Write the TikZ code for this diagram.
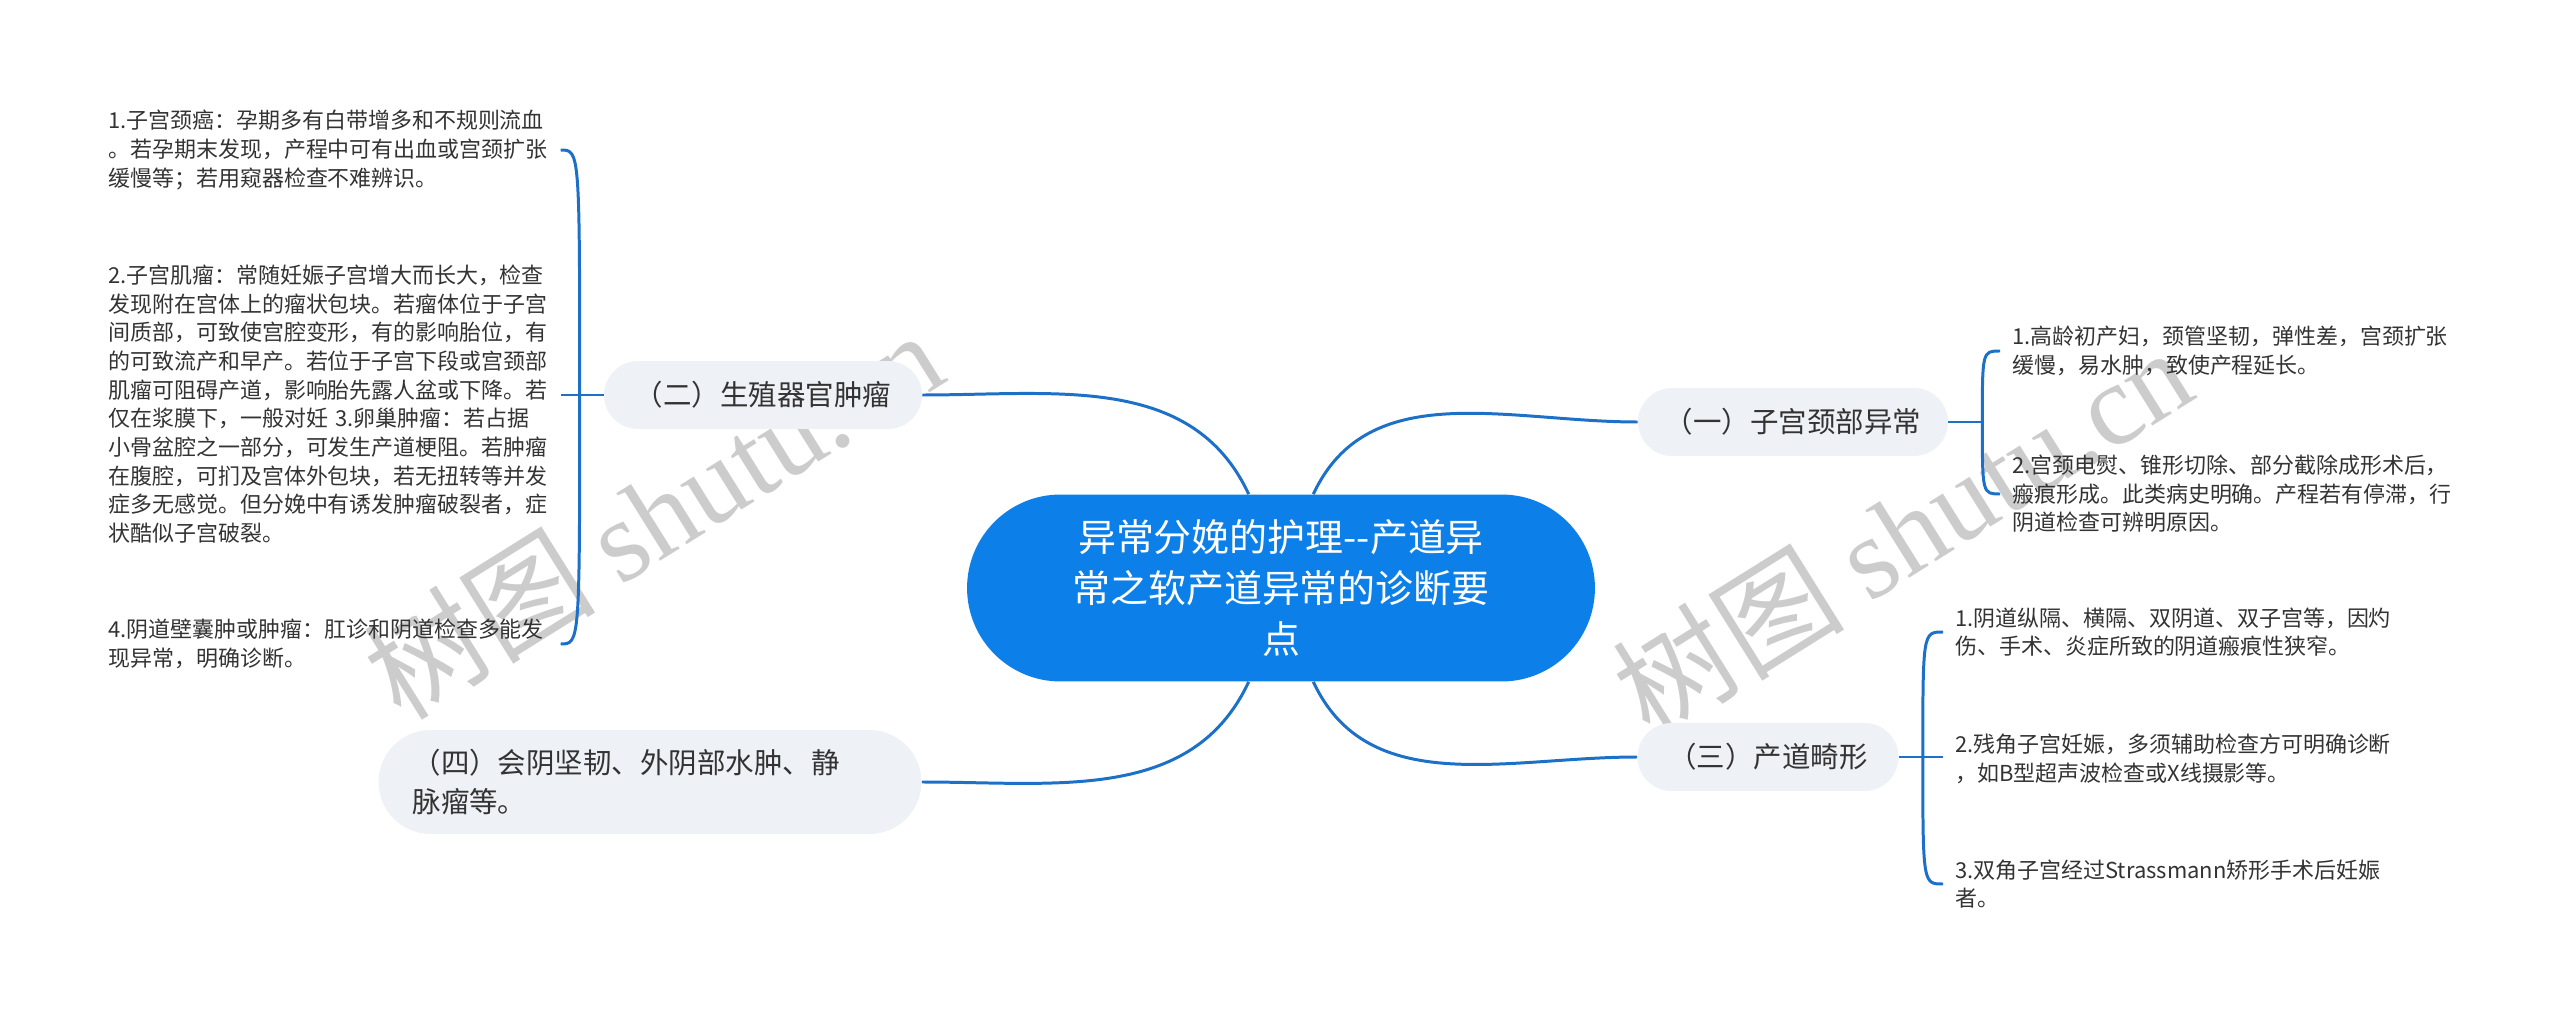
\documentclass[tikz,border=0pt]{standalone}
\usepackage{fontspec}
\setmainfont{Noto Sans CJK SC}
\newfontfamily\markfont{Liberation Serif}
\definecolor{rootblue}{RGB}{12,127,232}
\definecolor{linkblue}{RGB}{28,112,200}
\definecolor{boxgray}{RGB}{238,241,245}
\definecolor{inkgray}{RGB}{51,51,51}
\tikzstyle{root}=[rounded corners=1.87cm,fill=rootblue,text=white,
  minimum width=12.56cm,minimum height=3.74cm,align=center,
  font=\fontsize{21.6}{28.8}\selectfont]
\tikzstyle{branch}=[rounded corners=0.68cm,fill=boxgray,text=inkgray,
  minimum height=1.36cm,font=\fontsize{16.2}{22.2}\selectfont]
\tikzstyle{leaf}=[text=inkgray,text width=8.8cm,align=left,inner xsep=0.24cm,
  inner ysep=2pt,font=\fontsize{12.5}{16.3}\selectfont]
\tikzstyle{link}=[draw=linkblue,line width=1.7pt]
\tikzstyle{wmark}=[text=black!20,rotate=32,font=\fontsize{66}{66}\selectfont]

\begin{document}
\begin{tikzpicture}[x=0.02cm,y=0.02cm]
  \useasboundingbox (0,0) rectangle (2560,1019);
  % watermark
  \node[wmark] (wm1) at (653,505) {树图 {\markfont shutu.cn}};
  \node[wmark] (wm2) at (1902,488) {树图 {\markfont shutu.cn}};

  \node[root] (ctr) at (1281,431) {异常分娩的护理-{}-产道异\\常之软产道异常的诊断要\\点};

  \node[branch,minimum width=6.2cm] (n1) at (1793,597) {（一）子宫颈部异常};
  \node[branch,minimum width=6.36cm] (n2) at (763,624) {（二）生殖器官肿瘤};
  \node[branch,minimum width=5.22cm] (n3) at (1768,262) {（三）产道畸形};
  \node[branch,minimum height=2.08cm,rounded corners=1.04cm,text width=9.5cm,
        align=left,inner xsep=0.68cm] (n4) at (650,237)
        {（四）会阴坚韧、外阴部水肿、静\\脉瘤等。};

  % leaves of (二)
  \node[leaf,anchor=west] (l1) at (96,869) {1.子宫颈癌：孕期多有白带增多和不规则流血\\。若孕期末发现，产程中可有出血或宫颈扩张\\缓慢等；若用窥器检查不难辨识。};
  \node[leaf,anchor=west] (l2) at (96,615) {2.子宫肌瘤：常随妊娠子宫增大而长大，检查\\发现附在宫体上的瘤状包块。若瘤体位于子宫\\间质部，可致使宫腔变形，有的影响胎位，有\\的可致流产和早产。若位于子宫下段或宫颈部\\肌瘤可阻碍产道，影响胎先露人盆或下降。若\\仅在浆膜下，一般对妊 3.卵巢肿瘤：若占据\\小骨盆腔之一部分，可发生产道梗阻。若肿瘤\\在腹腔，可扪及宫体外包块，若无扭转等并发\\症多无感觉。但分娩中有诱发肿瘤破裂者，症\\状酷似子宫破裂。};
  \node[leaf,anchor=west] (l3) at (96,375) {4.阴道壁囊肿或肿瘤：肛诊和阴道检查多能发\\现异常，明确诊断。};

  % leaves of (一)
  \node[leaf,anchor=west] (r1a) at (2000,668) {1.高龄初产妇，颈管坚韧，弹性差，宫颈扩张\\缓慢，易水肿，致使产程延长。};
  \node[leaf,anchor=west] (r1b) at (2000,525) {2.宫颈电熨、锥形切除、部分截除成形术后，\\瘢痕形成。此类病史明确。产程若有停滞，行\\阴道检查可辨明原因。};

  % leaves of (三)
  \node[leaf,anchor=west] (r3a) at (1943,387) {1.阴道纵隔、横隔、双阴道、双子宫等，因灼\\伤、手术、炎症所致的阴道瘢痕性狭窄。};
  \node[leaf,anchor=west] (r3b) at (1943,260) {2.残角子宫妊娠，多须辅助检查方可明确诊断\\，如B型超声波检查或X线摄影等。};
  \node[leaf,anchor=west] (r3c) at (1943,135) {3.双角子宫经过Strassmann矫形手术后妊娠\\者。};

  % main branches
  \draw[link] (ctr.109) to[out=115,in=0] (n2.east);
  \draw[link] (ctr.71) to[out=65,in=180] (n1.west);
  \draw[link] (ctr.-71) to[out=-65,in=180] (n3.west);
  \draw[link] (ctr.-109) to[out=-115,in=0] (n4.east);

  % brackets
  \coordinate (j2) at ([xshift=-0.48cm]n2.west);
  \coordinate (j1) at ([xshift=0.68cm]n1.east);
  \coordinate (j3) at ([xshift=0.48cm]n3.east);

  \draw[link] (n2.west) -- (l2.east |- n2.west);
  \draw[link] (j2) .. controls (j2 |- l1.east) .. (l1.east);
  \draw[link] (j2) .. controls (j2 |- l3.east) .. (l3.east);

  \draw[link] (n1.east) -- (j1);
  \draw[link] (j1) .. controls (j1 |- r1a.west) .. (r1a.west);
  \draw[link] (j1) .. controls (j1 |- r1b.west) .. (r1b.west);

  \draw[link] (n3.east) -- (r3b.west |- n3.east);
  \draw[link] (j3) .. controls (j3 |- r3a.west) .. (r3a.west);
  \draw[link] (j3) .. controls (j3 |- r3c.west) .. (r3c.west);
\end{tikzpicture}
\end{document}
